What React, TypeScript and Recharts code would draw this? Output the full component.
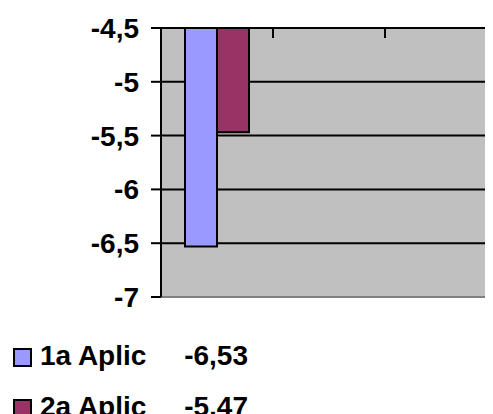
import { BarChart, Bar, XAxis, YAxis, CartesianGrid, ReferenceLine } from 'recharts';

const categories = ['1', '2', '3'];
const seriesNames = ['1a Aplic', '2a Aplic'];
const seriesColors = ['#9999FF', '#993366'];
const aplic1 = [-6.53, null, null];
const aplic2 = [-5.47, null, null];
const yTicks = [-7, -6.5, -6, -5.5, -5, -4.5];

// categories sit in the middle of each unit slot so the axis ticks fall on the slot edges
const data = categories.map((c, i) => ({ cat: c, pos: i + 0.5, a1: aplic1[i], a2: aplic2[i] }));
const edgeTicks = [0, ...categories.map((_, i) => i + 1)];
const tableValues = [aplic1[0], aplic2[0]];

const font = '"Liberation Sans", Arial, sans-serif';
const comma = (v: number, d?: number) => (d === undefined ? String(v) : v.toFixed(d)).replace('.', ',');

// inward tick mark hanging down from the top axis
const InwardTick = (props: any) => (
  <line x1={props.x} x2={props.x} y1={props.y} y2={props.y + 10} stroke="#000" strokeWidth={2} />
);

export default function App() {
  return (
    <div style={{ position: 'relative', width: 485, height: 406, overflow: 'hidden', fontFamily: font }}>
      <BarChart
        width={489}
        height={320}
        data={data}
        margin={{ top: 19, right: 0, left: 0, bottom: 31 }}
        barGap={0}
      >
        <CartesianGrid vertical={false} fill="#C0C0C0" stroke="#000" strokeWidth={2} fillOpacity={1} />
        <XAxis
          dataKey="pos"
          type="number"
          domain={[0, categories.length]}
          ticks={edgeTicks}
          orientation="top"
          height={1}
          tick={InwardTick}
          tickSize={0}
          tickMargin={0}
          tickLine={false}
          interval={0}
          axisLine={{ stroke: '#000', strokeWidth: 2 }}
          allowDataOverflow
        />
        <YAxis
          type="number"
          domain={[-7, -4.5]}
          ticks={yTicks}
          interval={0}
          allowDataOverflow
          width={153}
          tickSize={10}
          tickMargin={12}
          tickFormatter={(v) => comma(v)}
          tick={{ fill: '#000', fontSize: 28, fontWeight: 'bold', fontFamily: font }}
          axisLine={{ stroke: '#000', strokeWidth: 2 }}
          tickLine={{ stroke: '#000', strokeWidth: 2 }}
        />
        <ReferenceLine y={-7} stroke="#808080" strokeWidth={2} />
        <Bar dataKey="a1" name={seriesNames[0]} fill={seriesColors[0]} stroke="#000" strokeWidth={2} barSize={32} isAnimationActive={false} />
        <Bar dataKey="a2" name={seriesNames[1]} fill={seriesColors[1]} stroke="#000" strokeWidth={2} barSize={32} isAnimationActive={false} />
      </BarChart>
      {seriesNames.map((name, i) => (
        <div
          key={name}
          style={{ position: 'absolute', left: 0, top: 334 + i * 51, width: 485, height: 28, fontSize: 28, lineHeight: '28px', fontWeight: 'bold' }}
        >
          <div style={{ position: 'absolute', left: 5, top: 6, width: 19, height: 19, boxSizing: 'border-box', border: '2px solid #000', background: seriesColors[i] }} />
          <span style={{ position: 'absolute', left: 32, top: 0 }}>{name}</span>
          <span style={{ position: 'absolute', left: 157, width: 83, top: 0, textAlign: 'right' }}>{comma(tableValues[i] as number, 2)}</span>
        </div>
      ))}
    </div>
  );
}
